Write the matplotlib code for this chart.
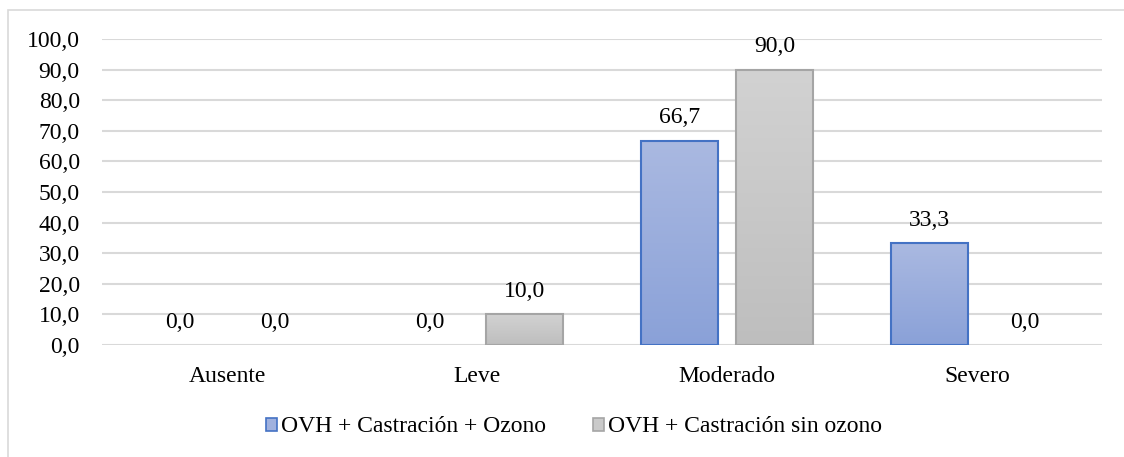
import numpy as np
import matplotlib.pyplot as plt
from matplotlib.patches import Rectangle
from matplotlib.colors import LinearSegmentedColormap

categories = ['Ausente', 'Leve', 'Moderado', 'Severo']
ozono = [0.0, 0.0, 66.7, 33.3]
sin_ozono = [0.0, 10.0, 90.0, 0.0]
series_names = ['OVH + Castración + Ozono', 'OVH + Castración sin ozono']
yticks = np.arange(0, 101, 10)

plt.rcParams['font.family'] = ['Liberation Serif', 'DejaVu Serif']
FS = 17

W, H = 1124, 457
fig = plt.figure(figsize=(W / 100, H / 100), dpi=100)
# chart border (only left/top visible in the reference)
fig.patches.append(Rectangle((8 / W, 0 - 0.05), 1.2, 1 - 10 / H + 0.05,
                             transform=fig.transFigure, fill=False,
                             edgecolor='#D9D9D9', linewidth=1.2))

ax = fig.add_axes([102 / W, 1 - 345 / H, 1000 / W, 306 / H])
x = np.arange(len(categories))
w = 0.31
off = 0.19

ax.set_xlim(-0.5, len(categories) - 0.5)
ax.set_ylim(0, 100)
ax.set_yticks(yticks)
ax.set_yticklabels([f'{v:.1f}'.replace('.', ',') for v in yticks], fontsize=FS)
ax.set_xticks(x)
ax.set_xticklabels(categories, fontsize=FS)
ax.tick_params(axis='y', length=0, pad=16)
ax.tick_params(axis='x', length=0, pad=15)
for s in ax.spines.values():
    s.set_visible(False)
ax.grid(axis='y', color='#D9D9D9', linewidth=1.5)
ax.set_axisbelow(True)

blue_cm = LinearSegmentedColormap.from_list('b', ['#8AA1D8', '#AAB9E1'])
gray_cm = LinearSegmentedColormap.from_list('g', ['#BEBEBE', '#D2D2D2'])
grad = np.linspace(0, 1, 256).reshape(-1, 1)

def draw_bars(vals, shift, cmap, edge, label):
    bars = ax.bar(x + shift, vals, width=w, color='none', edgecolor='none',
                  label=label, zorder=2)
    for b, v in zip(bars, vals):
        if v <= 0:
            continue
        x0 = b.get_x()
        ax.imshow(grad, extent=(x0, x0 + w, 0, v), origin='lower',
                  cmap=cmap, aspect='auto', zorder=2)
        ax.add_patch(Rectangle((x0, 0), w, v, fill=False, edgecolor=edge,
                               linewidth=1.5, zorder=3))
    for xi, v in zip(x + shift, vals):
        ax.text(xi, v + 7.5, f'{v:.1f}'.replace('.', ','), ha='center',
                va='center', fontsize=FS)
    return bars

draw_bars(ozono, -off, blue_cm, '#4472C4', series_names[0])
draw_bars(sin_ozono, off, gray_cm, '#A5A5A5', series_names[1])
ax.set_aspect('auto')
ax.set_xlim(-0.5, len(categories) - 0.5)
ax.set_ylim(0, 100)

handles = [Rectangle((0, 0), 1, 1, facecolor='#A0B1DE', edgecolor='#4472C4', linewidth=1.2),
           Rectangle((0, 0), 1, 1, facecolor='#CACACA', edgecolor='#A5A5A5', linewidth=1.2)]
fig.legend(handles, series_names, loc='center', bbox_to_anchor=(574 / W, 1 - 427 / H),
           ncol=2, frameon=False, fontsize=FS, handlelength=0.47, handleheight=0.47,
           handletextpad=0.17, columnspacing=1.95)

fig.savefig('out.png', dpi=100)
